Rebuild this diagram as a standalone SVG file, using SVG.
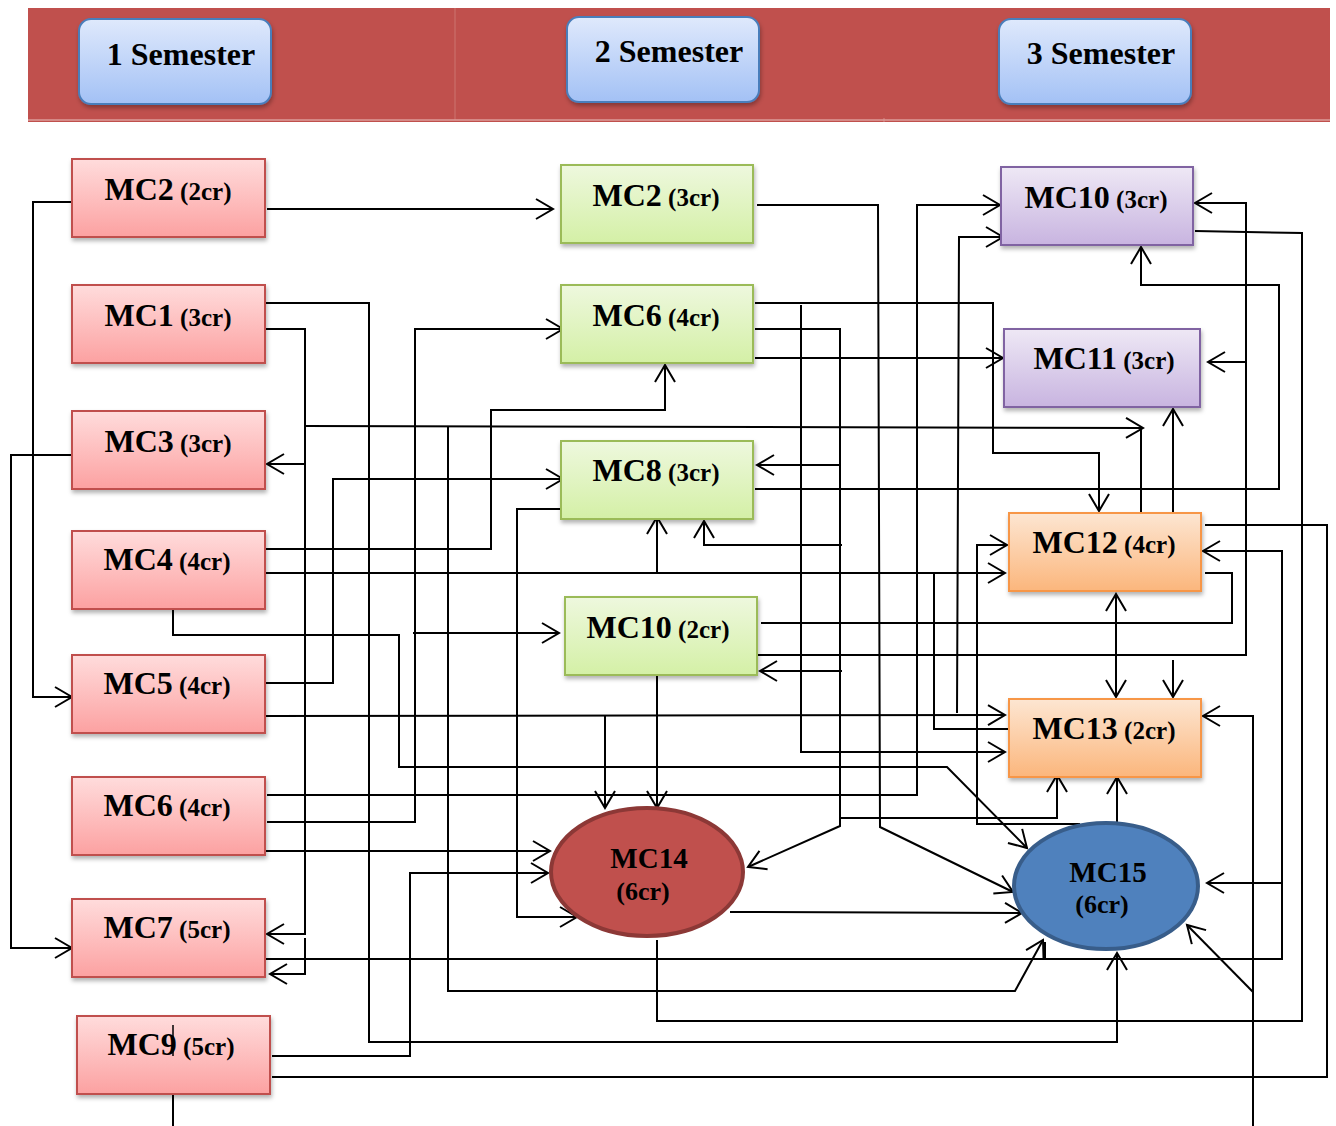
<svg xmlns="http://www.w3.org/2000/svg" width="1336" height="1126" viewBox="0 0 1336 1126">
<style>
.c{fill:none;stroke:#000;stroke-width:2}
.a{marker-end:url(#ah)}
.t{font-family:"Liberation Serif","Times New Roman",serif;font-weight:bold;text-anchor:middle;fill:#000}
.b{font-size:32px}
.s{font-size:25px}
.h{font-size:32px}
.pk{fill:url(#gPk);stroke:#c0504d;stroke-width:2;filter:url(#sh)}
.gr{fill:url(#gGr);stroke:#9bbb59;stroke-width:2;filter:url(#sh)}
.pu{fill:url(#gPu);stroke:#8064a2;stroke-width:2;filter:url(#sh)}
.or{fill:url(#gOr);stroke:#f79646;stroke-width:2;filter:url(#sh)}
.sm{fill:url(#gBl);stroke:#4a7ebb;stroke-width:2;filter:url(#sh)}
</style>
<defs>
<linearGradient id="gPk" x1="0" y1="0" x2="0" y2="1"><stop offset="0" stop-color="#ffdcdc"/><stop offset="1" stop-color="#fca1a1"/></linearGradient>
<linearGradient id="gGr" x1="0" y1="0" x2="0" y2="1"><stop offset="0" stop-color="#eef8de"/><stop offset="1" stop-color="#d4f0a6"/></linearGradient>
<linearGradient id="gPu" x1="0" y1="0" x2="0" y2="1"><stop offset="0" stop-color="#eee8f5"/><stop offset="1" stop-color="#c8b4e0"/></linearGradient>
<linearGradient id="gOr" x1="0" y1="0" x2="0" y2="1"><stop offset="0" stop-color="#fde6d2"/><stop offset="1" stop-color="#fbb67c"/></linearGradient>
<linearGradient id="gBl" x1="0" y1="0" x2="0" y2="1"><stop offset="0" stop-color="#dfe9fc"/><stop offset="1" stop-color="#a3c1f5"/></linearGradient>
<filter id="sh" x="-10%" y="-10%" width="125%" height="140%"><feDropShadow dx="1" dy="3" stdDeviation="2" flood-color="#000" flood-opacity="0.3"/></filter>
<marker id="ah" markerUnits="userSpaceOnUse" markerWidth="22" markerHeight="24" viewBox="0 0 22 24" refX="19" refY="12" orient="auto-start-reverse"><path d="M2,2 L19,12 L2,22" fill="none" stroke="#000" stroke-width="2"/></marker>
</defs>
<rect width="1336" height="1126" fill="#fff"/>

<g id="header">
<rect x="28" y="8" width="1302" height="114" fill="#c0504d"/>
<line x1="455" y1="8" x2="455" y2="120" stroke="#cc7471" stroke-width="1"/>
<line x1="884" y1="118" x2="884" y2="122" stroke="#d48a88" stroke-width="1"/>
<line x1="28" y1="120" x2="1330" y2="120" stroke="#dc9c9a" stroke-width="1.5"/>
</g>
<g id="sem1"><rect class="sm" x="79" y="19" width="192" height="85" rx="12"/><text class="t h" x="181" y="65">1 Semester</text></g>
<g id="sem2"><rect class="sm" x="567" y="17" width="192" height="85" rx="12"/><text class="t h" x="669" y="62">2 Semester</text></g>
<g id="sem3"><rect class="sm" x="999" y="19" width="192" height="85" rx="12"/><text class="t h" x="1101" y="64">3 Semester</text></g>

<g id="connectors">
<polyline class="c a" points="72,202 33,202 33,697 72,697"/>
<polyline class="c a" points="267,209 553,209"/>
<polyline class="c a" points="265,303 369,303 369,1042 1117,1042 1117,953"/>
<polyline class="c a" points="265,329 305,329 305,934 267,934"/>
<polyline class="c a" points="305,464 267,464"/>
<polyline class="c a" points="305,938 305,974 270,974"/>
<polyline class="c a" points="305,426 1143,428"/>
<polyline class="c" points="1141,428 1141,513"/>
<polyline class="c a" points="72,455 11,455 11,948 72,948"/>
<polyline class="c a" points="265,549 491,549 491,410 665,410 665,365"/>
<polyline class="c a" points="265,573 1005,573"/>
<polyline class="c a" points="657,573 657,517"/>
<polyline class="c a" points="173,609 173,635 399,635 399,767 947,767 1027,848"/>
<polyline class="c a" points="265,683 333,683 333,479 563,479"/>
<polyline class="c a" points="265,716 1005,715"/>
<polyline class="c a" points="605,715 605,808"/>
<polyline class="c a" points="267,795 917,795 917,205 1000,205"/>
<polyline class="c a" points="267,822 415,822 415,329 563,329"/>
<polyline class="c a" points="413,633 559,633"/>
<polyline class="c a" points="265,851 550,851"/>
<polyline class="c a" points="272,1056 410,1056 410,873 548,873"/>
<polyline class="c a" points="265,959 1282,959 1282,551 1203,551"/>
<polyline class="c a" points="1282,883 1207,883"/>
<polyline class="c" points="272,1077 1327,1077 1327,525 1205,525"/>
<polyline class="c" points="173,1094 173,1126"/>
<polyline class="c a" points="448,427 448,991 1015,991 1043,940"/>
<polyline class="c" points="1045,942 1045,959"/>
<polyline class="c" points="657,940 657,1021 1302,1021 1302,233 1195,231"/>
<polyline class="c a" points="730,912 1022,913"/>
<polyline class="c a" points="757,205 878,205 880,827 1013,892"/>
<polyline class="c a" points="755,303 993,303 993,453 1099,453 1099,511"/>
<polyline class="c a" points="801,305 801,752 1005,752"/>
<polyline class="c a" points="755,329 840,329 840,826 748,867"/>
<polyline class="c a" points="840,465 757,465"/>
<polyline class="c a" points="842,545 704,545 704,521"/>
<polyline class="c a" points="842,671 760,671"/>
<polyline class="c a" points="755,358 1003,358"/>
<polyline class="c a" points="957,713 959,237 1003,237"/>
<polyline class="c" points="860,573 934,573 934,729 1009,729"/>
<polyline class="c a" points="840,818 1057,818 1057,775"/>
<polyline class="c a" points="1080,824 977,824 977,545 1007,545"/>
<polyline class="c a" points="755,489 1279,489 1279,285 1141,285 1141,247"/>
<polyline class="c" points="761,623 1232,623 1232,573 1205,573"/>
<polyline class="c a" points="757,655 1246,655 1246,203 1195,203"/>
<polyline class="c a" points="1246,362 1208,362"/>
<polyline class="c a" points="657,675 657,808"/>
<polyline class="c a" points="561,509 517,509 517,917 577,917"/>
<polyline class="c a" points="1173,513 1173,409"/>
<polyline class="c a" style="marker-start:url(#ah)" points="1116,594 1116,697"/>
<polyline class="c a" points="1173,660 1173,697"/>
<polyline class="c a" points="1117,822 1117,777"/>
<polyline class="c a" points="1253,1126 1253,716 1203,716"/>
<polyline class="c a" points="1253,992 1187,925"/>
</g>

<g id="L_MC2"><rect class="pk" x="72" y="159" width="193" height="78"/><text class="t" x="168" y="200"><tspan class="b">MC2</tspan><tspan class="s"> (2cr)</tspan></text></g>
<g id="L_MC1"><rect class="pk" x="72" y="285" width="193" height="78"/><text class="t" x="168" y="326"><tspan class="b">MC1</tspan><tspan class="s"> (3cr)</tspan></text></g>
<g id="L_MC3"><rect class="pk" x="72" y="411" width="193" height="78"/><text class="t" x="168" y="452"><tspan class="b">MC3</tspan><tspan class="s"> (3cr)</tspan></text></g>
<g id="L_MC4"><rect class="pk" x="72" y="531" width="193" height="78"/><text class="t" x="167" y="570"><tspan class="b">MC4</tspan><tspan class="s"> (4cr)</tspan></text></g>
<g id="L_MC5"><rect class="pk" x="72" y="655" width="193" height="78"/><text class="t" x="167" y="694"><tspan class="b">MC5</tspan><tspan class="s"> (4cr)</tspan></text></g>
<g id="L_MC6"><rect class="pk" x="72" y="777" width="193" height="78"/><text class="t" x="167" y="816"><tspan class="b">MC6</tspan><tspan class="s"> (4cr)</tspan></text></g>
<g id="L_MC7"><rect class="pk" x="72" y="899" width="193" height="78"/><text class="t" x="167" y="938"><tspan class="b">MC7</tspan><tspan class="s"> (5cr)</tspan></text></g>
<g id="L_MC9"><rect class="pk" x="77" y="1016" width="193" height="78"/><text class="t" x="171" y="1055"><tspan class="b">MC9</tspan><tspan class="s"> (5cr)</tspan></text><line x1="173" y1="1025" x2="173" y2="1056" stroke="#000" stroke-width="1.5"/></g>

<g id="M_MC2"><rect class="gr" x="561" y="165" width="192" height="78"/><text class="t" x="656" y="206"><tspan class="b">MC2</tspan><tspan class="s"> (3cr)</tspan></text></g>
<g id="M_MC6"><rect class="gr" x="561" y="285" width="192" height="78"/><text class="t" x="656" y="326"><tspan class="b">MC6</tspan><tspan class="s"> (4cr)</tspan></text></g>
<g id="M_MC8"><rect class="gr" x="561" y="441" width="192" height="78"/><text class="t" x="656" y="481"><tspan class="b">MC8</tspan><tspan class="s"> (3cr)</tspan></text></g>
<g id="M_MC10"><rect class="gr" x="565" y="597" width="192" height="78"/><text class="t" x="658" y="638"><tspan class="b">MC10</tspan><tspan class="s"> (2cr)</tspan></text></g>

<g id="R_MC10"><rect class="pu" x="1001" y="167" width="192" height="78"/><text class="t" x="1096" y="208"><tspan class="b">MC10</tspan><tspan class="s"> (3cr)</tspan></text></g>
<g id="R_MC11"><rect class="pu" x="1004" y="329" width="196" height="78"/><text class="t" x="1104" y="369"><tspan class="b">MC11</tspan><tspan class="s"> (3cr)</tspan></text></g>
<g id="R_MC12"><rect class="or" x="1009" y="513" width="192" height="78"/><text class="t" x="1104" y="553"><tspan class="b">MC12</tspan><tspan class="s"> (4cr)</tspan></text></g>
<g id="R_MC13"><rect class="or" x="1009" y="699" width="192" height="78"/><text class="t" x="1104" y="739"><tspan class="b">MC13</tspan><tspan class="s"> (2cr)</tspan></text></g>

<g id="MC14"><ellipse cx="647" cy="872" rx="96" ry="64" fill="#c0504d" stroke="#8c3836" stroke-width="4"/><text class="t" x="649" y="868" style="font-size:29px">MC14</text><text class="t" x="643" y="900" style="font-size:26px">(6cr)</text></g>
<g id="MC15"><ellipse cx="1106" cy="886" rx="92" ry="63" fill="#4f81bd" stroke="#385d8a" stroke-width="4"/><text class="t" x="1108" y="882" style="font-size:29px">MC15</text><text class="t" x="1102" y="913" style="font-size:26px">(6cr)</text></g>
</svg>
